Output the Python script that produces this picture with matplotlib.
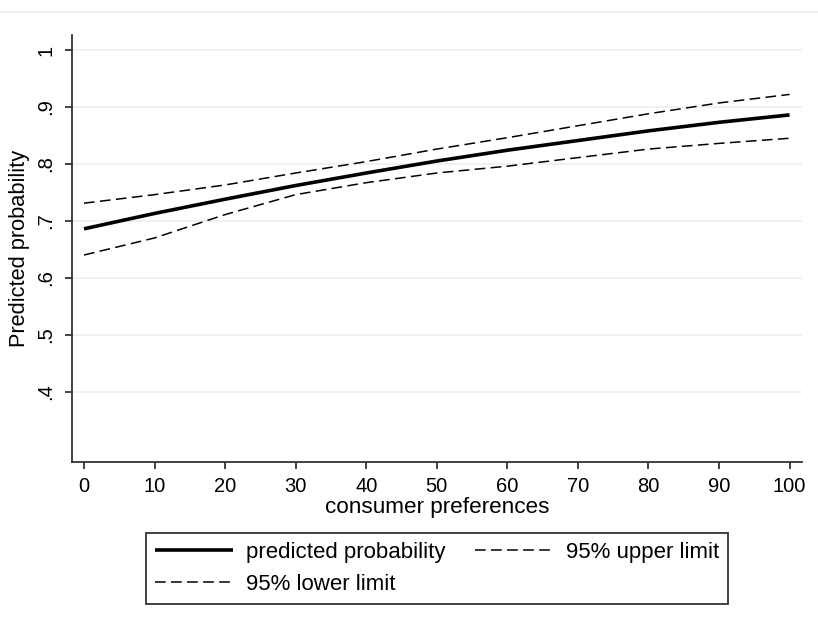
import matplotlib.pyplot as plt
from matplotlib import lines
import numpy as np

plt.rcParams['font.family'] = ['Liberation Sans', 'DejaVu Sans']

# values
pref = [0, 10, 20, 30, 40, 50, 60, 70, 80, 90, 100]
pred_prob = [0.686, 0.713, 0.738, 0.762, 0.784, 0.805, 0.824, 0.841, 0.858, 0.873, 0.886]
upper_lim = [0.731, 0.746, 0.763, 0.784, 0.804, 0.826, 0.846, 0.867, 0.888, 0.907, 0.922]
lower_lim = [0.640, 0.670, 0.711, 0.746, 0.767, 0.784, 0.796, 0.811, 0.826, 0.836, 0.845]

y_ticks = [0.4, 0.5, 0.6, 0.7, 0.8, 0.9, 1.0]
y_ticklabels = ['.4', '.5', '.6', '.7', '.8', '.9', '1']
x_ticks = [0, 10, 20, 30, 40, 50, 60, 70, 80, 90, 100]

axis_col = '#333333'
grid_col = '#eaf1f3'
dash = (0, (7, 3.5))

# ----------------------------------------------------------------------------------------------------
fig = plt.figure(figsize = (8.18, 6.24), dpi = 100)
ax = fig.add_axes([72/818, 1 - 462/624, 730/818, 427/624])

# faint line at the very top of the graph region
fig.add_artist(lines.Line2D([0, 1], [1 - 12.3/624, 1 - 12.3/624], transform = fig.transFigure, color = '#e8f0f2', lw = 1.2))

ax.plot(pref, pred_prob, color = 'black', lw = 2.6, solid_capstyle = 'butt', label = 'predicted probability', zorder = 3)
ax.plot(pref, upper_lim, color = 'black', lw = 1.1, ls = dash, label = '95% upper limit', zorder = 3)
ax.plot(pref, lower_lim, color = 'black', lw = 1.1, ls = dash, label = '95% lower limit', zorder = 3)

ax.set_xlim(-1.70, 101.76)
ax.set_ylim(0.2766, 1.0263)

ax.set_yticks(y_ticks)
ax.set_yticklabels(y_ticklabels, rotation = 90, va = 'center')
ax.set_xticks(x_ticks)
ax.yaxis.grid(True, color = grid_col, lw = 1.2)
ax.set_axisbelow(True)

for s in ['top', 'right']:
    ax.spines[s].set_visible(False)
for s in ['left', 'bottom']:
    ax.spines[s].set_color(axis_col)
    ax.spines[s].set_linewidth(1.3)

ax.tick_params(axis = 'both', direction = 'out', length = 5, width = 1.3, color = axis_col, labelsize = 14.5)
ax.tick_params(axis = 'x', pad = 6)
ax.tick_params(axis = 'y', pad = 7)

ax.set_xlabel('consumer preferences', fontsize = 16.2)
ax.xaxis.set_label_coords(0.5, -0.083)
ax.set_ylabel('Predicted probability', fontsize = 15.7)
ax.yaxis.set_label_coords(-0.058, 0.5)

h, l = ax.get_legend_handles_labels()
order = [0, 2, 1]
lgnd = fig.legend([h[i] for i in order], [l[i] for i in order], ncol = 2, loc = 'upper center',
                  bbox_to_anchor = (437/818, 1 - 533/624), bbox_transform = fig.transFigure,
                  frameon = True, fancybox = False, fontsize = 16, handlelength = 3.5,
                  handletextpad = 0.6, columnspacing = 1.3, labelspacing = 0.5,
                  borderpad = 0.4, borderaxespad = 0)
lgnd.get_frame().set_edgecolor('black')
lgnd.get_frame().set_linewidth(1.3)

fig.savefig('out.png', dpi = 100)
